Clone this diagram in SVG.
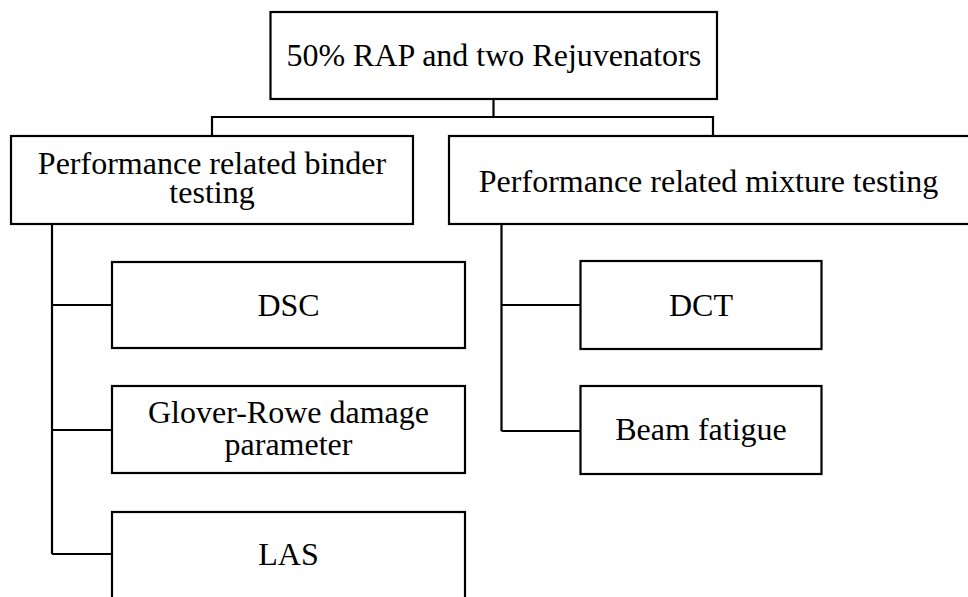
<svg xmlns="http://www.w3.org/2000/svg" width="968" height="597" viewBox="0 0 968 597">
<style>
.box{fill:#fff;stroke:#000;stroke-width:2.2}
.t{font-family:"Liberation Serif","Times New Roman",serif;font-size:32px;fill:#000;text-anchor:middle}
.c{fill:none;stroke:#000;stroke-width:2.2}
</style>
<rect width="968" height="597" fill="#fff"/>
<g id="connectors">
<path class="c" d="M493.5,99 V117 M212,136 V117 H713 V136"/>
<path class="c" d="M52,224 V554 M52,305 H112 M52,430 H112 M52,554 H112"/>
<path class="c" d="M501.5,224 V431 M501.5,305 H580.5 M501.5,431 H580.5"/>
</g>
<g id="root">
<rect class="box" x="270.5" y="12" width="446.5" height="87"/>
<text class="t" x="493.8" y="66">50% RAP and two Rejuvenators</text>
</g>
<g id="binder">
<rect class="box" x="11" y="136" width="402" height="88"/>
<text class="t" x="212" y="174">Performance related binder</text>
<text class="t" x="212" y="203">testing</text>
</g>
<g id="mixture">
<rect class="box" x="449" y="136" width="528" height="88"/>
<text class="t" x="708.5" y="192">Performance related mixture testing</text>
</g>
<g id="dsc">
<rect class="box" x="112" y="262" width="353" height="86"/>
<text class="t" x="288.5" y="315.5">DSC</text>
</g>
<g id="glover">
<rect class="box" x="112" y="386" width="353" height="87"/>
<text class="t" x="288.5" y="422.5">Glover-Rowe damage</text>
<text class="t" x="288.5" y="455">parameter</text>
</g>
<g id="las">
<rect class="box" x="112" y="512" width="353" height="100"/>
<text class="t" x="288.5" y="565">LAS</text>
</g>
<g id="dct">
<rect class="box" x="580.5" y="261" width="241" height="88"/>
<text class="t" x="701" y="315.5">DCT</text>
</g>
<g id="beam">
<rect class="box" x="580.5" y="386" width="241" height="88"/>
<text class="t" x="701" y="440">Beam fatigue</text>
</g>
</svg>
